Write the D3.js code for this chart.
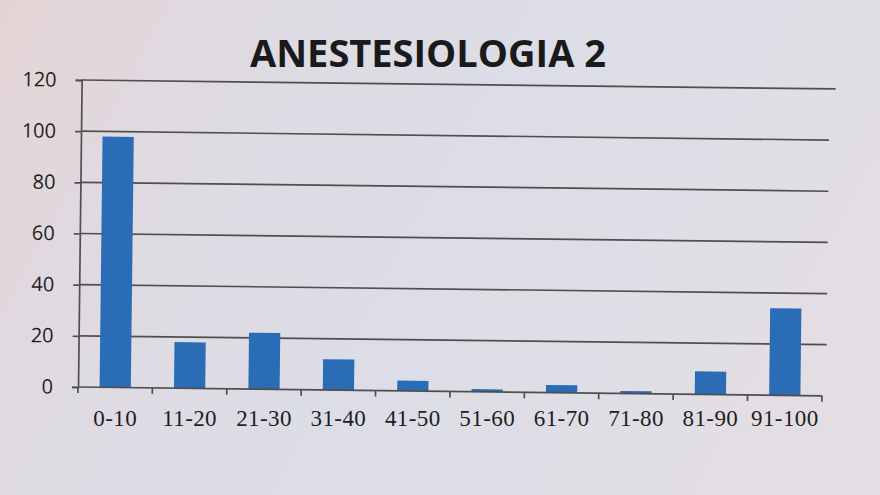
<!DOCTYPE html>
<html><head><meta charset="utf-8">
<script src="https://cdn.jsdelivr.net/npm/d3@7"></script>
<style>html,body{margin:0;padding:0;background:#dedde5;}svg{display:block;}</style>
</head><body>
<svg id="c" width="880" height="495"></svg>
<script>
const categories = ["0-10","11-20","21-30","31-40","41-50","51-60","61-70","71-80","81-90","91-100"];
const values = [98, 18, 22, 12, 4, 1, 3, 1, 9, 34];
const yTicks = [0, 20, 40, 60, 80, 100, 120];
const title = "ANESTESIOLOGIA 2";

const svg = d3.select("#c");
const defs = svg.append("defs");
const bg = defs.append("linearGradient").attr("id","bg").attr("x1","0").attr("x2","1").attr("y1","0").attr("y2","0.3");
bg.append("stop").attr("offset","0").attr("stop-color","#e4d4d4");
bg.append("stop").attr("offset","0.25").attr("stop-color","#dfdae2");
bg.append("stop").attr("offset","0.6").attr("stop-color","#dcdde7");
bg.append("stop").attr("offset","1").attr("stop-color","#e2dee4");
svg.append("rect").attr("width",880).attr("height",495).attr("fill","url(#bg)");

const m = {l:78, r:822, t:80, b:387};
const x = d3.scaleBand().domain(categories).range([m.l, m.r]).paddingInner(0.58).paddingOuter(0.29);
const y = d3.scaleLinear().domain([0,120]).range([m.b, m.t]);
const stroke = "#4f4f4f";

svg.append("text").attr("x",428).attr("y",67).attr("text-anchor","middle")
  .attr("font-family","Open Sans, Lato, sans-serif").attr("font-weight","bold")
  .attr("font-size",38).attr("fill","#1a1a1a").text(title);

const g = svg.append("g").attr("transform",`rotate(0.68, ${m.l}, ${m.b})`);

// gridlines
g.append("g").selectAll("line").data(yTicks.filter(d=>d>0)).join("line")
  .attr("x1", m.l).attr("x2", d => d===120 ? 832 : 826)
  .attr("y1", d=>y(d)).attr("y2", d=>y(d))
  .attr("stroke",stroke).attr("stroke-width",1.7);

// bars
g.append("g").selectAll("rect").data(values).join("rect")
  .attr("x",(d,i)=>x(categories[i])).attr("width",x.bandwidth())
  .attr("y",d=>y(d)).attr("height",d=>y(0)-y(d))
  .attr("fill","#2a6cb6");

// y axis
const ya = g.append("g").attr("transform",`translate(${m.l},0)`)
  .call(d3.axisLeft(y).tickValues(yTicks).tickSize(6).tickPadding(19));
ya.select(".domain").attr("stroke",stroke).attr("stroke-width",1.7);
ya.selectAll(".tick line").attr("stroke",stroke).attr("stroke-width",1.7);
ya.selectAll(".tick text").attr("font-family","Open Sans, Lato, sans-serif").attr("font-size",20).attr("fill","#1e1e1e");

// x axis line and boundary tick marks (tilted with the plot)
const xa = g.append("g").attr("transform",`translate(0,${m.b})`)
  .call(d3.axisBottom(x).tickSize(0).tickFormat(""));
xa.select(".domain").attr("stroke",stroke).attr("stroke-width",1.7).attr("d",`M${m.l},0H${m.r}`);
const edgeX = i => i===0 ? m.l : (i===categories.length ? m.r : (x(categories[i-1]) + x(categories[i]) + x.bandwidth())/2);
g.append("g").selectAll("line").data(d3.range(categories.length+1)).join("line")
  .attr("x1", edgeX).attr("x2", edgeX)
  .attr("y1", m.b).attr("y2", m.b+6).attr("stroke",stroke).attr("stroke-width",1.7);

// x labels (level)
svg.append("g").attr("transform",`translate(0,${m.b})`)
  .call(d3.axisBottom(x).tickSize(0).tickPadding(23))
  .call(s => s.select(".domain").remove())
  .selectAll(".tick text").attr("font-family","Liberation Serif, Times New Roman, serif")
  .attr("font-size",23).attr("letter-spacing",0.4).attr("fill","#1e1e1e");
</script>
</body></html>
